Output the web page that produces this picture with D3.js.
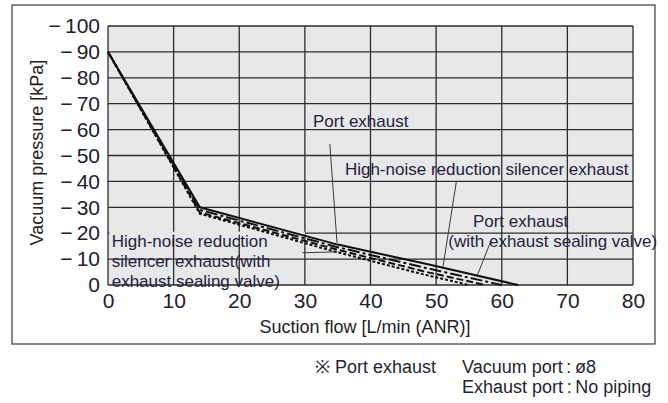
<!DOCTYPE html>
<html>
<head>
<meta charset="utf-8">
<script src="https://cdn.jsdelivr.net/npm/d3@7"></script>
<style>
  html, body { margin: 0; padding: 0; background: #fff; }
  svg { display: block; font-family: "Liberation Sans", Arial, Helvetica, sans-serif; }
</style>
</head>
<body>
<svg id="chart" width="668" height="403"></svg>
<script>
// Axis ticks
const flowTicks = [0, 10, 20, 30, 40, 50, 60, 70, 80];
const pressureTicks = [0, 10, 20, 30, 40, 50, 60, 70, 80, 90, 100];

// Flow-rate characteristics: [suction flow L/min (ANR), vacuum pressure kPa]
const portExhaust          = [[0, 90], [14, 30],   [35, 15.6], [48.4, 8.2], [62.5, 0]];
const silencerExhaust      = [[0, 90], [14, 29],   [35, 14.6], [48.4, 6.6], [60, 0]];
const portExhaustValve     = [[0, 90], [14, 28],   [35, 13.6], [48.4, 5.1], [57.5, 0]];
const silencerExhaustValve = [[0, 90], [14, 27.5], [35, 12.6], [48.4, 3.9], [55, 0]];

// Curve labels: text lines with their anchor in data units, and leader lines
const labelPort = { lines: ["Port exhaust"], at: [[31.24, 60.9]], leader: [[33.8, 54.4], [34.9, 16.3]] };
const labelSilencer = { lines: ["High-noise reduction silencer exhaust"], at: [[36.1, 42.5]], leader: [[53.1, 40.2], [51.05, 7.1]] };
const labelPortValve = { lines: ["Port exhaust", "(with exhaust sealing valve)"], at: [[55.6, 22.5], [51.86, 14.8]], leader: [[58.2, 16.1], [56.2, 3.2]] };
const labelSilencerValve = { lines: ["High-noise reduction", "silencer exhaust(with", "exhaust sealing valve)"], at: [[0.56, 14.8], [0.56, 6.9], [0.56, -0.8]], leader: [[29.6, 12.45], [34.9, 12.8]] };

const svg = d3.select("#chart");
const margin = { left: 108, top: 26, right: 35, bottom: 118 };
const W = 668 - margin.left - margin.right;   // 525
const H = 403 - margin.top - margin.bottom;   // 259

// outer frame
svg.append("rect")
  .attr("x", 12).attr("y", 5).attr("width", 643).attr("height", 339)
  .attr("fill", "none").attr("stroke", "#4a4a4a").attr("stroke-width", 1.3);

const g = svg.append("g").attr("transform", `translate(${margin.left},${margin.top})`);

const x = d3.scaleLinear().domain([0, 80]).range([0, W]);
const y = d3.scaleLinear().domain([0, 100]).range([H, 0]);

// plot background
g.append("rect").attr("width", W).attr("height", H).attr("fill", "#e7e8e9");

// grid
const gridColor = "#2d2d2d";
g.append("g").selectAll("line").data(flowTicks).join("line")
  .attr("x1", d => x(d)).attr("x2", d => x(d)).attr("y1", 0).attr("y2", H)
  .attr("stroke", gridColor).attr("stroke-width", 1.3);
g.append("g").selectAll("line").data(pressureTicks).join("line")
  .attr("x1", 0).attr("x2", W).attr("y1", d => y(d)).attr("y2", d => y(d))
  .attr("stroke", gridColor).attr("stroke-width", 1.3);

// the 20 kPa rule is interrupted behind the lower-left label
g.append("rect")
  .attr("x", x(0) + 1.5).attr("y", y(20) - 1.5)
  .attr("width", x(30) - x(0) - 1.5).attr("height", 3)
  .attr("fill", "#e7e8e9");

// axes
const tickColor = "#20202e";
const yAxis = g.append("g")
  .call(d3.axisLeft(y).tickValues(pressureTicks).tickSize(0).tickPadding(8)
    .tickFormat(d => d === 0 ? "0" : "\u2212\u2009" + d));
const xAxis = g.append("g").attr("transform", `translate(0,${H})`)
  .call(d3.axisBottom(x).tickValues(flowTicks).tickSize(0).tickPadding(8));
[yAxis, xAxis].forEach(a => {
  a.select(".domain").remove();
  a.selectAll("text").attr("font-size", 21).attr("fill", tickColor)
    .attr("font-family", "'Liberation Sans', Arial, sans-serif");
});

// axis titles
g.append("text")
  .attr("x", 257).attr("y", 307)
  .attr("text-anchor", "middle").attr("font-size", 18).attr("fill", "#222")
  .text("Suction flow [L/min (ANR)]");
svg.append("text")
  .attr("transform", "translate(43,152.5) rotate(-90)")
  .attr("text-anchor", "middle").attr("font-size", 18).attr("fill", "#222")
  .text("Vacuum pressure [kPa]");

// curve labels
const labelColor = "#26213d";
[labelPort, labelSilencer, labelPortValve, labelSilencerValve].forEach(lab => {
  lab.lines.forEach((t, i) => {
    g.append("text")
      .attr("x", x(lab.at[i][0])).attr("y", y(lab.at[i][1]))
      .attr("font-size", 17).attr("fill", labelColor)
      .text(t);
  });
  g.append("line")
    .attr("x1", x(lab.leader[0][0])).attr("y1", y(lab.leader[0][1]))
    .attr("x2", x(lab.leader[1][0])).attr("y2", y(lab.leader[1][1]))
    .attr("stroke", "#3a3a3a").attr("stroke-width", 1);
});

// curves
const line = d3.line().x(d => x(d[0])).y(d => y(d[1]));
const curves = [
  { data: silencerExhaustValve, dash: "3,2" },
  { data: portExhaustValve, dash: "7,3" },
  { data: silencerExhaust, dash: "12,3,3,3" },
  { data: portExhaust, dash: null }
];
g.append("g").selectAll("path").data(curves).join("path")
  .attr("d", d => line(d.data))
  .attr("fill", "none")
  .attr("stroke", "#111")
  .attr("stroke-width", 2)
  .attr("stroke-dasharray", d => d.dash);

// footnote
const note = svg.append("g").attr("font-size", 18).attr("fill", "#1f1f33");
note.append("text").attr("x", 315).attr("y", 373).text("\u203B Port exhaust");
note.append("text").attr("x", 462).attr("y", 373).text("Vacuum port\u2009:\u2009\u00F88");
note.append("text").attr("x", 462).attr("y", 393).text("Exhaust port\u2009:\u2009No piping");
</script>
</body>
</html>
